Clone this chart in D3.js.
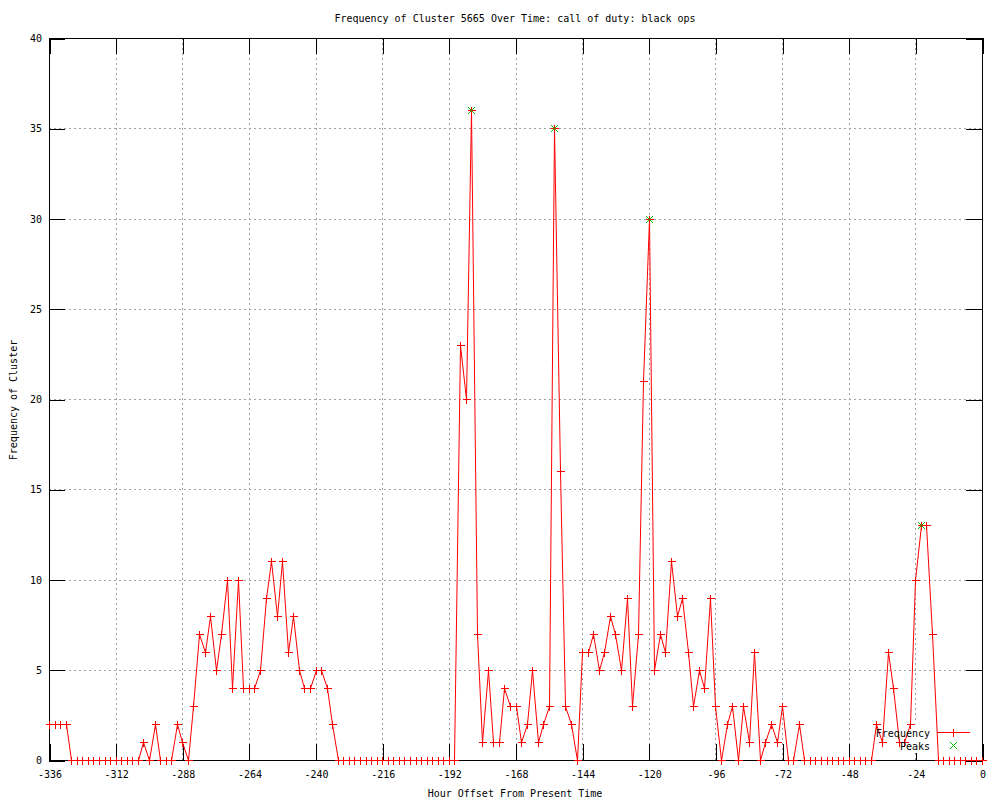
<!DOCTYPE html>
<html>
<head>
<meta charset="utf-8">
<script src="https://cdn.jsdelivr.net/npm/d3@7/dist/d3.min.js"></script>
<style>
  html, body { margin: 0; padding: 0; background: #fff; }
  svg { display: block; }
  text { font-family: "DejaVu Sans Mono", "Liberation Mono", monospace; font-size: 10px; fill: #000; }
</style>
</head>
<body>
<svg id="chart" width="1000" height="800"></svg>
<script>
// ---- data ----
const titleText = "Frequency of Cluster 5665 Over Time: call of duty: black ops";
const xLabelText = "Hour Offset From Present Time";
const yLabelText = "Frequency of Cluster";

const hours = [
  -336,-334,-332,-330,-328,-326,-324,-322,-320,-318,-316,-314,
  -312,-310,-308,-306,-304,-302,-300,-298,-296,-294,-292,-290,
  -288,-286,-284,-282,-280,-278,-276,-274,-272,-270,-268,-266,
  -264,-262,-260,-258,-256,-254,-252,-250,-248,-246,-244,-242,
  -240,-238,-236,-234,-232,-230,-228,-226,-224,-222,-220,-218,
  -216,-214,-212,-210,-208,-206,-204,-202,-200,-198,-196,-194,
  -192,-190,-188,-186,-184,-182,-180,-178,-176,-174,-172,-170,
  -168,-166,-164,-162,-160,-158,-156,-154,-152,-150,-148,-146,
  -144,-142,-140,-138,-136,-134,-132,-130,-128,-126,-124,-122,
  -120,-118,-116,-114,-112,-110,-108,-106,-104,-102,-100,-98,
  -96,-94,-92,-90,-88,-86,-84,-82,-80,-78,-76,-74,
  -72,-70,-68,-66,-64,-62,-60,-58,-56,-54,-52,-50,
  -48,-46,-44,-42,-40,-38,-36,-34,-32,-30,-28,-26,
  -24,-22,-20,-18,-16,-14,-12,-10,-8,-6,-4,-2,
  0
];
const frequency = [
  2,2,2,2,0,0,0,0,0,0,0,0,
  0,0,0,0,0,1,0,2,0,0,0,2,
  1,0,3,7,6,8,5,7,10,4,10,4,
  4,4,5,9,11,8,11,6,8,5,4,4,
  5,5,4,2,0,0,0,0,0,0,0,0,
  0,0,0,0,0,0,0,0,0,0,0,0,
  0,0,23,20,36,7,1,5,1,1,4,3,
  3,1,2,5,1,2,3,35,16,3,2,0,
  6,6,7,5,6,8,7,5,9,3,7,21,
  30,5,7,6,11,8,9,6,3,5,4,9,
  3,0,2,3,0,3,1,6,0,1,2,1,
  3,0,0,2,0,0,0,0,0,0,0,0,
  0,0,0,0,0,2,1,6,4,1,1,2,
  10,13,13,7,0,0,0,0,0,0,0,0,
  0
];
const peakHours = [-184, -154, -120, -22];
const peakValues = [36, 35, 30, 13];

const xTicks = [-336,-312,-288,-264,-240,-216,-192,-168,-144,-120,-96,-72,-48,-24,0];
const yTicks = [0,5,10,15,20,25,30,35,40];
const legendLabels = ["Frequency", "Peaks"];

// ---- layout ----
const L = 49, R = 982, T = 38, B = 760;
const svg = d3.select("#chart");
const x = d3.scaleLinear().domain([-336, 0]).range([L, R]);
const y = d3.scaleLinear().domain([0, 40]).range([B, T]);
const px = v => Math.round(x(v)) + 0.5;
const py = v => Math.round(y(v)) + 0.5;

// grid
const grid = svg.append("g").attr("stroke", "#a0a0a0").attr("stroke-width", 1)
  .attr("stroke-dasharray", "2,3").attr("shape-rendering", "crispEdges");
grid.selectAll("line.gx").data(xTicks.filter(d => d > -336 && d < 0)).join("line")
  .attr("x1", d => px(d)).attr("x2", d => px(d)).attr("y1", T).attr("y2", B);
grid.selectAll("line.gy").data(yTicks.filter(d => d > 0 && d < 40)).join("line")
  .attr("y1", d => py(d)).attr("y2", d => py(d)).attr("x1", L).attr("x2", R);

// axes (ticks inward, mirrored)
const tickLen = 16;
function styleAxis(g) {
  g.select(".domain").remove();
  g.selectAll(".tick line").attr("stroke", "#000").attr("shape-rendering", "crispEdges");
  g.selectAll(".tick text").attr("fill", "#000")
    .style("font-family", '"DejaVu Sans Mono", monospace').style("font-size", "10px");
}
const fmt = d => String(d);
svg.append("g").attr("transform", `translate(0.5,${B})`)
  .call(d3.axisBottom(x).tickValues(xTicks).tickFormat(fmt).tickSizeInner(-tickLen).tickSizeOuter(0).tickPadding(11))
  .call(styleAxis);
svg.append("g").attr("transform", `translate(0.5,${T})`)
  .call(d3.axisTop(x).tickValues(xTicks).tickFormat("").tickSizeInner(-tickLen).tickSizeOuter(0))
  .call(styleAxis);
svg.append("g").attr("transform", `translate(${L},0.5)`)
  .call(d3.axisLeft(y).tickValues(yTicks).tickFormat(fmt).tickSizeInner(-tickLen).tickSizeOuter(0).tickPadding(7))
  .call(styleAxis);
svg.append("g").attr("transform", `translate(${R},0.5)`)
  .call(d3.axisRight(y).tickValues(yTicks).tickFormat("").tickSizeInner(-tickLen).tickSizeOuter(0))
  .call(styleAxis);

// frame
svg.append("rect").attr("x", L + 0.5).attr("y", T + 0.5).attr("width", R - L).attr("height", B - T)
  .attr("fill", "none").attr("stroke", "#000").attr("shape-rendering", "crispEdges");

// key area clears grid/ticks beneath it
svg.append("rect").attr("x", 872).attr("y", 723).attr("width", 104).attr("height", 30).attr("fill", "#fff");

// data line
const pts = hours.map((h, i) => [h, frequency[i]]);
const line = d3.line().x(d => px(d[0])).y(d => py(d[1]));
svg.append("path").datum(pts).attr("d", line).attr("fill", "none")
  .attr("stroke", "#ff0000").attr("stroke-width", 1);

// plus markers
const plus = (cx, cy, s) => `M${cx - s},${cy}H${cx + s}M${cx},${cy - s}V${cy + s}`;
svg.append("path").attr("d", pts.map(d => plus(px(d[0]), py(d[1]), 4)).join(""))
  .attr("stroke", "#ff0000").attr("fill", "none").attr("shape-rendering", "crispEdges");

// peaks (green x)
const cross = (cx, cy, s) => `M${cx - s},${cy - s}L${cx + s},${cy + s}M${cx - s},${cy + s}L${cx + s},${cy - s}`;
svg.append("path").attr("d", peakHours.map((h, i) => cross(px(h), py(peakValues[i]), 3.5)).join(""))
  .attr("stroke", "#00c000").attr("fill", "none");

// legend
svg.append("text").attr("x", 930).attr("y", 736.5).attr("text-anchor", "end").text(legendLabels[0]);
svg.append("line").attr("x1", 937).attr("x2", 970).attr("y1", 732.5).attr("y2", 732.5).attr("stroke", "#ff0000");
svg.append("path").attr("d", plus(953.5, 732.5, 4)).attr("stroke", "#ff0000").attr("shape-rendering", "crispEdges");
svg.append("text").attr("x", 930).attr("y", 749.5).attr("text-anchor", "end").text(legendLabels[1]);
svg.append("path").attr("d", cross(953.5, 745.5, 3.5)).attr("stroke", "#00c000").attr("fill", "none");

// titles
svg.append("text").attr("x", 515).attr("y", 22).attr("text-anchor", "middle").text(titleText);
svg.append("text").attr("x", 515).attr("y", 797).attr("text-anchor", "middle").text(xLabelText);
svg.append("text").attr("transform", "translate(17,400) rotate(-90)").attr("text-anchor", "middle").text(yLabelText);
</script>
</body>
</html>
